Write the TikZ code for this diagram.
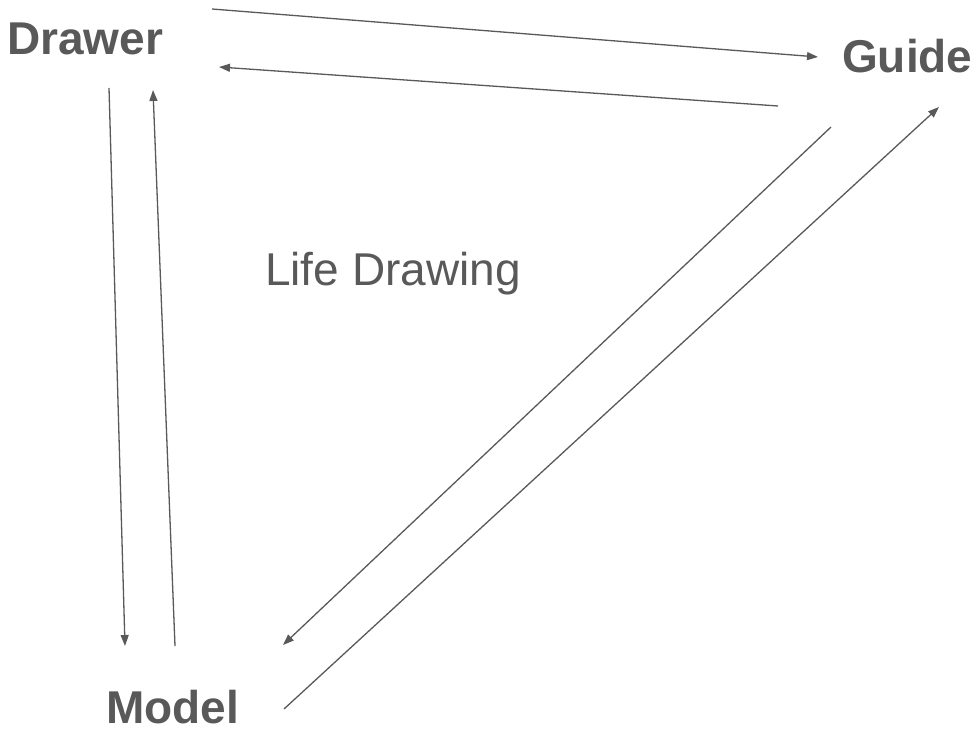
\documentclass[tikz,border=0pt]{standalone}
\usepackage{fontspec}
\setmainfont{Liberation Sans}
\usetikzlibrary{arrows.meta}
\definecolor{ink}{HTML}{595959}
\tikzset{
  lbl/.style={anchor=base west,inner sep=0pt,text depth=0pt,text=ink,font=\fontsize{46}{46}\selectfont\bfseries},
  plainlbl/.style={anchor=base west,inner sep=0pt,text=ink,font=\fontsize{46}{46}\selectfont},
  conn/.style={draw=ink,line width=1.3pt,-{Triangle[length=11pt,width=8pt]}}
}
\begin{document}
\begin{tikzpicture}[x=1pt,y=-1pt]
\useasboundingbox (0,0) rectangle (980,730);
\node[lbl] (drawer) at (7,55) {Drawer};
\node[lbl] (guide) at (842,73) {Guide};
\node[lbl] (model) at (106,723) {Model};
\node[plainlbl] (life) at (265,285) {Life Drawing};
\coordinate (a1) at (212,9);   \coordinate (a2) at (818,57);
\coordinate (b1) at (778,106); \coordinate (b2) at (219,67);
\coordinate (c1) at (109,88);  \coordinate (c2) at (125,646);
\coordinate (d1) at (175,646); \coordinate (d2) at (153,90);
\coordinate (e1) at (831,127); \coordinate (e2) at (283,645);
\coordinate (f1) at (284,709); \coordinate (f2) at (939,107);
\draw[conn] (a1) -- (a2);
\draw[conn] (b1) -- (b2);
\draw[conn] (c1) -- (c2);
\draw[conn] (d1) -- (d2);
\draw[conn] (e1) -- (e2);
\draw[conn] (f1) -- (f2);
\end{tikzpicture}
\end{document}
